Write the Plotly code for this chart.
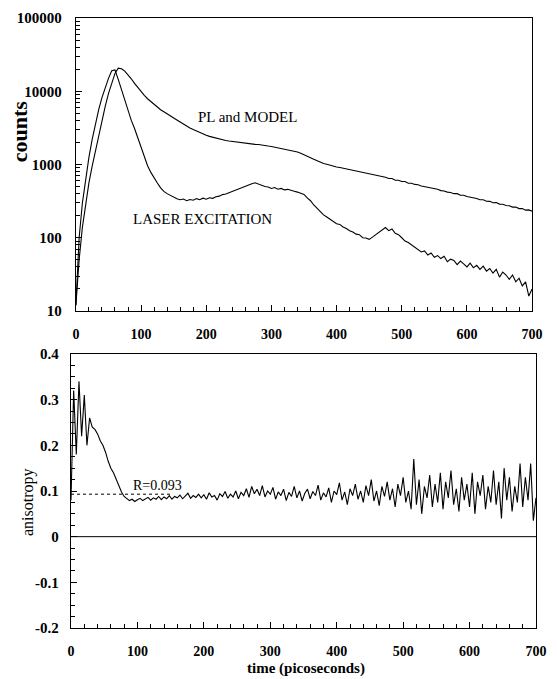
import numpy as np
import plotly.graph_objects as go

# ---------------- data ----------------
t_counts = np.arange(0, 701, 5)  # ps, 5 ps spacing

laser_counts = [
    12, 100, 300, 650, 1250, 2200, 3600, 5600, 8200, 11500,
    15000, 19000, 19500, 14500, 10500, 7500, 5500, 4000, 3100, 2300,
    1700, 1250, 960, 780, 650, 560, 480, 430, 400, 380,
    355, 340, 330, 338, 320, 332, 325, 342, 330, 347,
    336, 352, 345, 362, 370, 388, 395, 412, 425, 445,
    460, 482, 500, 525, 545, 562, 540, 522, 500, 492,
    470, 484, 460, 472, 450, 458, 440, 432, 420, 402,
    390, 350, 320, 280, 250, 225, 205, 192, 180, 168,
    155, 152, 140, 134, 125, 120, 112, 110, 100, 99,
    95, 102, 110, 121, 128, 138, 125, 132, 115, 110,
    100, 90, 86, 80, 74, 70, 64, 66, 58, 62,
    54, 57, 52, 56, 47, 51, 49, 43, 48, 44,
    40, 45, 39, 42, 37, 41, 35, 38, 33, 37,
    29, 34, 31, 27, 31, 25, 28, 22, 25, 16,
    20,
]

pl_counts = [
    12, 50, 140, 300, 560, 950, 1550, 2500, 4000, 6200,
    9300, 13000, 17500, 20700, 20300, 18800, 16800, 14800, 12800, 11200,
    9900, 8800, 7900, 7200, 6600, 6050, 5600, 5250, 4950, 4650,
    4350, 4050, 3800, 3550, 3350, 3150, 3000, 2850, 2720, 2600,
    2500, 2420, 2350, 2290, 2230, 2180, 2130, 2090, 2060, 2010,
    1990, 1960, 1955, 1915, 1910, 1880, 1875, 1835, 1815, 1785,
    1765, 1725, 1705, 1665, 1635, 1595, 1565, 1515, 1485, 1425,
    1370, 1300, 1240, 1180, 1120, 1070, 1030, 1005, 970, 955,
    925, 910, 890, 875, 855, 845, 820, 805, 780, 770,
    745, 740, 710, 705, 685, 670, 645, 645, 610, 610,
    585, 585, 555, 555, 535, 530, 510, 500, 485, 480,
    460, 460, 440, 435, 420, 415, 400, 400, 380, 380,
    365, 360, 348, 344, 330, 330, 315, 314, 300, 302,
    288, 286, 276, 274, 262, 262, 250, 250, 238, 240,
    230,
]

t_aniso = np.arange(0, 701, 4)  # ps, 4 ps spacing

anisotropy = [
    0.08, 0.32, 0.18, 0.34, 0.22, 0.31, 0.20, 0.26, 0.24, 0.235,
    0.225, 0.21, 0.20, 0.185, 0.165, 0.15, 0.14, 0.125, 0.11, 0.098,
    0.088, 0.083, 0.079, 0.082, 0.077, 0.081, 0.084, 0.079, 0.083, 0.086,
    0.080, 0.085, 0.082, 0.088, 0.081, 0.087, 0.083, 0.090, 0.082, 0.088,
    0.085, 0.091, 0.083, 0.089, 0.095, 0.084, 0.090, 0.086, 0.093, 0.085,
    0.092, 0.082, 0.096, 0.087, 0.090, 0.080, 0.094, 0.088, 0.099, 0.084,
    0.093, 0.087, 0.100, 0.083, 0.097, 0.090, 0.105, 0.086, 0.110, 0.094,
    0.104, 0.090, 0.112, 0.087, 0.100, 0.093, 0.108, 0.082, 0.098, 0.090,
    0.104, 0.079, 0.097, 0.088, 0.110, 0.085, 0.100, 0.078, 0.095, 0.104,
    0.083, 0.099, 0.090, 0.113, 0.080, 0.096, 0.087, 0.107, 0.075, 0.100,
    0.092, 0.118, 0.080, 0.098, 0.070, 0.105, 0.090, 0.115, 0.082, 0.100,
    0.075, 0.112, 0.090, 0.125, 0.078, 0.100, 0.068, 0.110, 0.088, 0.120,
    0.080, 0.105, 0.065, 0.115, 0.090, 0.130, 0.075, 0.100, 0.060, 0.170,
    0.070, 0.125, 0.050, 0.110, 0.085, 0.135, 0.065, 0.115, 0.075, 0.140,
    0.060, 0.120, 0.085, 0.145, 0.070, 0.105, 0.055, 0.130, 0.080, 0.115,
    0.065, 0.140, 0.050, 0.120, 0.090, 0.135, 0.060, 0.110, 0.075, 0.145,
    0.070, 0.120, 0.040, 0.150, 0.080, 0.130, 0.055, 0.110, 0.075, 0.160,
    0.065, 0.130, 0.080, 0.160, 0.035, 0.085,
]

r_value = 0.093
r_span = [0, 150]
zero_span = [0, 700]

x_ticks = [0, 100, 200, 300, 400, 500, 600, 700]
count_ticks = [10, 100, 1000, 10000, 100000]
aniso_ticks = [-0.2, -0.1, 0, 0.1, 0.2, 0.3, 0.4]
aniso_ticktext = ["-0.2", "-0.1", "0", "0.1", "0.2", "0.3", "0.4"]

# ---------------- layout helpers ----------------
W, H = 557, 679
ML, MR, MT, MB = 71, 10, 18, 51
PW, PH = W - ML - MR, H - MT - MB


def px_x(p):
    return (p - ML) / PW


def px_y(p):
    return (H - MB - p) / PH


SERIF = "Liberation Serif"
BOLD_TICK = dict(family=SERIF, size=15, color="black", weight="bold")

fig = go.Figure()

line_style = dict(color="black", width=1.1)
fig.add_trace(go.Scatter(x=t_counts, y=pl_counts, mode="lines", line=line_style,
                         xaxis="x", yaxis="y", showlegend=False))
fig.add_trace(go.Scatter(x=t_counts, y=laser_counts, mode="lines", line=line_style,
                         xaxis="x", yaxis="y", showlegend=False))
fig.add_trace(go.Scatter(x=zero_span, y=[0, 0], mode="lines",
                         line=dict(color="black", width=1),
                         xaxis="x2", yaxis="y2", showlegend=False))
fig.add_trace(go.Scatter(x=r_span, y=[r_value, r_value], mode="lines",
                         line=dict(color="black", width=1, dash="dot"),
                         xaxis="x2", yaxis="y2", showlegend=False))
fig.add_trace(go.Scatter(x=t_aniso, y=anisotropy, mode="lines", line=line_style,
                         xaxis="x2", yaxis="y2", showlegend=False))

axis_common = dict(showline=True, linecolor="black", linewidth=1.3, mirror=True,
                   ticks="inside", tickcolor="black", ticklen=6, tickwidth=1,
                   showgrid=False, zeroline=False)

fig.update_layout(
    width=W, height=H,
    margin=dict(l=ML, r=MR, t=MT, b=MB),
    paper_bgcolor="white", plot_bgcolor="white",
    xaxis=dict(**axis_common, domain=[px_x(76), px_x(543)], range=[0, 700],
               tickvals=x_ticks, tickfont=dict(family=SERIF, size=14, color="black", weight="bold"),
               ticklabelstandoff=10, anchor="y",
               minor=dict(ticks="inside", dtick=20, ticklen=4, tickcolor="black")),
    yaxis=dict(**axis_common, domain=[px_y(311), px_y(18)], type="log", range=[1, 5],
               tickvals=count_ticks, ticktext=[str(v) for v in count_ticks],
               tickfont=BOLD_TICK, ticklabelstandoff=10, anchor="x",
               minor=dict(ticks="inside", dtick="D1", ticklen=4, tickcolor="black")),
    xaxis2=dict(**axis_common, domain=[0, 1], range=[0, 700],
                tickvals=x_ticks, tickfont=dict(family=SERIF, size=14, color="black", weight="bold"),
                ticklabelstandoff=10, anchor="y2",
                minor=dict(ticks="inside", dtick=20, ticklen=4, tickcolor="black")),
    yaxis2=dict(**axis_common, domain=[0, px_y(354)], range=[-0.2, 0.4],
                tickvals=aniso_ticks, ticktext=aniso_ticktext,
                tickfont=BOLD_TICK, ticklabelstandoff=8, anchor="x2",
                minor=dict(ticks="inside", dtick=0.025, ticklen=4, tickcolor="black")),
)

ann_font = dict(family=SERIF, size=15, color="black")
fig.add_annotation(x=184, y=np.log10(4450), xref="x", yref="y", text="PL and MODEL",
                   showarrow=False, xanchor="left", yanchor="middle", font=ann_font)
fig.add_annotation(x=85, y=np.log10(180), xref="x", yref="y", text="LASER EXCITATION",
                   showarrow=False, xanchor="left", yanchor="middle", font=ann_font)
fig.add_annotation(x=91, y=0.113, xref="x2", yref="y2", text="R=0.093",
                   showarrow=False, xanchor="left", yanchor="middle",
                   font=dict(family=SERIF, size=14, color="black"))
fig.add_annotation(x=px_x(18), y=px_y(131), xref="paper", yref="paper", text="counts",
                   showarrow=False, textangle=-90, xanchor="center", yanchor="middle",
                   font=dict(family=SERIF, size=22, color="black", weight="bold"))
fig.add_annotation(x=px_x(27), y=px_y(502), xref="paper", yref="paper", text="anisotropy",
                   showarrow=False, textangle=-90, xanchor="center", yanchor="middle",
                   font=dict(family=SERIF, size=16, color="black"))
fig.add_annotation(x=px_x(312), y=px_y(668), xref="paper", yref="paper",
                   text="time (picoseconds)", showarrow=False,
                   xanchor="center", yanchor="middle",
                   font=dict(family=SERIF, size=15, color="black", weight="bold"))

fig.write_html("out.html", config={"displayModeBar": False})

# remove the default page margin so the figure sits at the window's top-left corner
with open("out.html", "r", encoding="utf-8") as fh:
    html = fh.read()
html = html.replace("<head>", "<head><style>html,body{margin:0;padding:0;overflow:hidden;}</style>", 1)
with open("out.html", "w", encoding="utf-8") as fh:
    fh.write(html)
